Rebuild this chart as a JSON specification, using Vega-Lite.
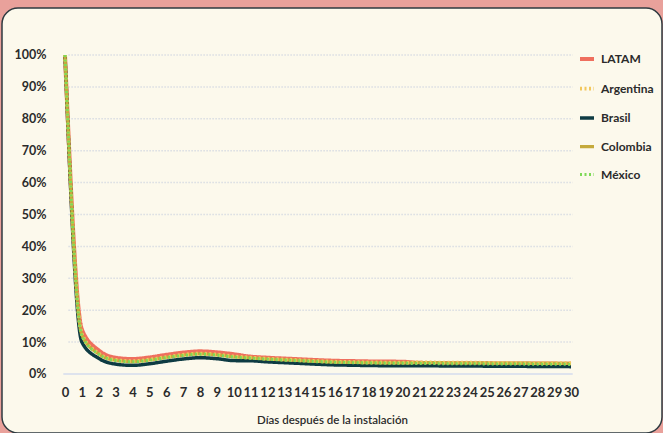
{
  "$schema": "https://vega.github.io/schema/vega-lite/v6.json",
  "width": 660,
  "height": 425,
  "autosize": {"type": "none"},
  "padding": {"left": 2, "top": 8, "right": 1, "bottom": 0},
  "background": "#E9A19B",
  "config": {
    "view": {"fill": "#FCF9EC", "stroke": "#2E3A40", "strokeWidth": 1.5, "cornerRadius": 16},
    "font": "Lato"
  },
  "encoding": {
    "y": {
      "field": "valor", "type": "quantitative",
      "scale": {"domain": [-18.5, 114.73], "nice": false, "zero": false},
      "axis": {
        "values": [0,10,20,30,40,50,60,70,80,90,100],
        "labelExpr": "datum.value + '%'",
        "domain": false, "ticks": false, "grid": false, "offset": -50, "labelPadding": 6,
        "labelFont": "Lato", "labelFontSize": 12.5, "labelFontWeight": "bold", "labelColor": "#2B2B2B",
        "title": null
      }
    }
  },
  "layer": [
    {
      "data": {"values": [
        {"valor": 10, "x0": 0.2, "x1": 30.1}, {"valor": 20, "x0": 0.2, "x1": 30.1}, {"valor": 30, "x0": 0.2, "x1": 30.1},
        {"valor": 40, "x0": 0.2, "x1": 30.1}, {"valor": 50, "x0": 0.2, "x1": 30.1}, {"valor": 60, "x0": 0.2, "x1": 30.1},
        {"valor": 70, "x0": 0.2, "x1": 30.1}, {"valor": 80, "x0": 0.2, "x1": 30.1}, {"valor": 90, "x0": 0.2, "x1": 30.1},
        {"valor": 100, "x0": 0.2, "x1": 30.1}
      ]},
      "mark": {"type": "rule", "strokeDash": [1.5, 1.5], "color": "#DADDE3", "strokeWidth": 1.5},
      "encoding": {
        "x": {
          "field": "x0", "type": "quantitative",
          "scale": {"domain": [-3.735, 35.394], "nice": false, "zero": false},
          "axis": {
            "values": [0,1,2,3,4,5,6,7,8,9,10,11,12,13,14,15,16,17,18,19,20,21,22,23,24,25,26,27,28,29,30],
            "domain": false, "ticks": false, "grid": false, "offset": -53, "labelPadding": 6,
            "labelOverlap": false, "labelFlush": false,
            "labelFont": "Lato", "labelFontSize": 13, "labelFontWeight": "bold", "labelColor": "#2B2B2B",
            "title": "Días después de la instalación", "titleFont": "Lato", "titleFontSize": 11.5, "titleFontWeight": 600,
            "titleColor": "#2B2B2B", "titlePadding": 15
          }
        },
        "x2": {"field": "x1"}
      }
    },
    {
      "data": {"values": [{"valor": 0, "x0": -0.1, "x1": 30.1}]},
      "mark": {"type": "rule", "color": "#DEE3ED", "strokeWidth": 2},
      "encoding": {
        "x": {
          "field": "x0", "type": "quantitative",
          "axis": {
            "values": [0,1,2,3,4,5,6,7,8,9,10,11,12,13,14,15,16,17,18,19,20,21,22,23,24,25,26,27,28,29,30],
            "domain": false, "ticks": false, "grid": false, "offset": -53, "labelPadding": 6,
            "labelOverlap": false, "labelFlush": false,
            "labelFont": "Lato", "labelFontSize": 13, "labelFontWeight": "bold", "labelColor": "#2B2B2B",
            "title": "Días después de la instalación", "titleFont": "Lato", "titleFontSize": 11.5, "titleFontWeight": 600,
            "titleColor": "#2B2B2B", "titlePadding": 15
          }
        },
        "x2": {"field": "x1"}
      }
    },
    {
      "data": {"values": [
        {"dia": 0, "LATAM": 100, "Argentina": 100, "Brasil": 100, "Colombia": 100, "México": 100},
        {"dia": 1, "LATAM": 14, "Argentina": 12.5, "Brasil": 10, "Colombia": 12.3, "México": 12},
        {"dia": 2, "LATAM": 7.4, "Argentina": 6.4, "Brasil": 4.9, "Colombia": 6.3, "México": 6.2},
        {"dia": 3, "LATAM": 5.1, "Argentina": 4.4, "Brasil": 3.1, "Colombia": 4.3, "México": 4.2},
        {"dia": 4, "LATAM": 4.7, "Argentina": 4.0, "Brasil": 2.7, "Colombia": 3.9, "México": 3.8},
        {"dia": 5, "LATAM": 5.2, "Argentina": 4.5, "Brasil": 3.2, "Colombia": 4.4, "México": 4.3},
        {"dia": 6, "LATAM": 6.0, "Argentina": 5.3, "Brasil": 4.0, "Colombia": 5.2, "México": 5.1},
        {"dia": 7, "LATAM": 6.7, "Argentina": 6.0, "Brasil": 4.7, "Colombia": 5.9, "México": 5.8},
        {"dia": 8, "LATAM": 7.1, "Argentina": 6.4, "Brasil": 5.1, "Colombia": 6.3, "México": 6.2},
        {"dia": 9, "LATAM": 6.8, "Argentina": 6.1, "Brasil": 4.8, "Colombia": 6.0, "México": 5.9},
        {"dia": 10, "LATAM": 6.2, "Argentina": 5.5, "Brasil": 4.2, "Colombia": 5.4, "México": 5.3},
        {"dia": 11, "LATAM": 5.45, "Argentina": 5.15, "Brasil": 4.15, "Colombia": 5.05, "México": 4.95},
        {"dia": 12, "LATAM": 5.1, "Argentina": 4.8, "Brasil": 3.8, "Colombia": 4.7, "México": 4.6},
        {"dia": 13, "LATAM": 4.85, "Argentina": 4.55, "Brasil": 3.55, "Colombia": 4.45, "México": 4.35},
        {"dia": 14, "LATAM": 4.6, "Argentina": 4.3, "Brasil": 3.3, "Colombia": 4.2, "México": 4.1},
        {"dia": 15, "LATAM": 4.35, "Argentina": 4.05, "Brasil": 3.05, "Colombia": 3.95, "México": 3.85},
        {"dia": 16, "LATAM": 4.15, "Argentina": 3.85, "Brasil": 2.85, "Colombia": 3.75, "México": 3.65},
        {"dia": 17, "LATAM": 4.05, "Argentina": 3.75, "Brasil": 2.75, "Colombia": 3.65, "México": 3.55},
        {"dia": 18, "LATAM": 3.95, "Argentina": 3.65, "Brasil": 2.65, "Colombia": 3.55, "México": 3.45},
        {"dia": 19, "LATAM": 3.9, "Argentina": 3.6, "Brasil": 2.6, "Colombia": 3.5, "México": 3.4},
        {"dia": 20, "LATAM": 3.85, "Argentina": 3.55, "Brasil": 2.55, "Colombia": 3.45, "México": 3.35},
        {"dia": 21, "LATAM": 3.5, "Argentina": 3.65, "Brasil": 2.6, "Colombia": 3.6, "México": 3.3},
        {"dia": 22, "LATAM": 3.45, "Argentina": 3.6, "Brasil": 2.55, "Colombia": 3.55, "México": 3.25},
        {"dia": 23, "LATAM": 3.4, "Argentina": 3.55, "Brasil": 2.5, "Colombia": 3.5, "México": 3.2},
        {"dia": 24, "LATAM": 3.4, "Argentina": 3.55, "Brasil": 2.5, "Colombia": 3.5, "México": 3.2},
        {"dia": 25, "LATAM": 3.35, "Argentina": 3.5, "Brasil": 2.45, "Colombia": 3.45, "México": 3.15},
        {"dia": 26, "LATAM": 3.3, "Argentina": 3.45, "Brasil": 2.4, "Colombia": 3.4, "México": 3.1},
        {"dia": 27, "LATAM": 3.3, "Argentina": 3.45, "Brasil": 2.4, "Colombia": 3.4, "México": 3.1},
        {"dia": 28, "LATAM": 3.25, "Argentina": 3.4, "Brasil": 2.35, "Colombia": 3.35, "México": 3.05},
        {"dia": 29, "LATAM": 3.25, "Argentina": 3.4, "Brasil": 2.35, "Colombia": 3.35, "México": 3.05},
        {"dia": 30, "LATAM": 3.2, "Argentina": 3.35, "Brasil": 2.3, "Colombia": 3.3, "México": 3.0}
      ]},
      "transform": [
        {"fold": ["LATAM", "Brasil", "Colombia", "Argentina", "México"], "as": ["serie", "valor"]}
      ],
      "mark": {"type": "line", "interpolate": "monotone"},
      "encoding": {
        "x": {
          "field": "dia", "type": "quantitative",
          "axis": {
            "values": [0,1,2,3,4,5,6,7,8,9,10,11,12,13,14,15,16,17,18,19,20,21,22,23,24,25,26,27,28,29,30],
            "domain": false, "ticks": false, "grid": false, "offset": -53, "labelPadding": 6,
            "labelOverlap": false, "labelFlush": false,
            "labelFont": "Lato", "labelFontSize": 13, "labelFontWeight": "bold", "labelColor": "#2B2B2B",
            "title": "Días después de la instalación", "titleFont": "Lato", "titleFontSize": 11.5, "titleFontWeight": 600,
            "titleColor": "#2B2B2B", "titlePadding": 15
          }
        },
        "color": {
          "field": "serie", "type": "nominal",
          "scale": {"domain": ["LATAM", "Argentina", "Brasil", "Colombia", "México"], "range": ["#EF6F5E", "#F2C75C", "#0E3B43", "#C5AA3B", "#7ED957"]},
          "legend": {
            "orient": "none", "legendX": 576, "legendY": 42, "title": null, "padding": 0,
            "symbolType": "stroke", "symbolSize": 196, "symbolStrokeWidth": 3, "rowPadding": 12.5,
            "labelFont": "Lato", "labelFontSize": 12, "labelFontWeight": "bold", "labelColor": "#2B2B2B", "labelOffset": 5
          }
        },
        "strokeDash": {
          "field": "serie", "type": "nominal",
          "scale": {"domain": ["LATAM", "Argentina", "Brasil", "Colombia", "México"], "range": [[1, 0], [2, 2.5], [1, 0], [1, 0], [2, 2.5]]},
          "legend": {
            "orient": "none", "legendX": 576, "legendY": 42, "title": null, "padding": 0,
            "symbolType": "stroke", "symbolSize": 196, "symbolStrokeWidth": 3, "rowPadding": 12.5,
            "labelFont": "Lato", "labelFontSize": 12, "labelFontWeight": "bold", "labelColor": "#2B2B2B", "labelOffset": 5
          }
        },
        "strokeWidth": {
          "field": "serie", "type": "nominal",
          "scale": {"domain": ["LATAM", "Argentina", "Brasil", "Colombia", "México"], "range": [4, 3, 4, 4, 3]},
          "legend": null
        }
      }
    }
  ]
}
